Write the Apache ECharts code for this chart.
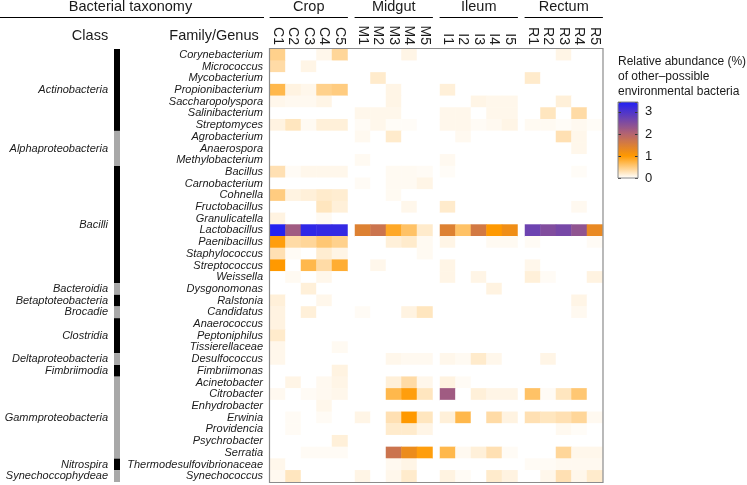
<!DOCTYPE html>
<html><head><meta charset="utf-8">
<script src="https://cdn.jsdelivr.net/npm/echarts@6/dist/echarts.min.js"></script>
<style>html,body{margin:0;padding:0;background:#fff}#c{width:747px;height:485px}</style>
</head><body><div id="c"></div>
<script>
const genera = ['Corynebacterium','Micrococcus','Mycobacterium','Propionibacterium','Saccharopolyspora','Salinibacterium','Streptomyces','Agrobacterium','Anaerospora','Methylobacterium','Bacillus','Carnobacterium','Cohnella','Fructobacillus','Granulicatella','Lactobacillus','Paenibacillus','Staphylococcus','Streptococcus','Weissella','Dysgonomonas','Ralstonia','Candidatus','Anaerococcus','Peptoniphilus','Tissierellaceae','Desulfococcus','Fimbriimonas','Acinetobacter','Citrobacter','Enhydrobacter','Erwinia','Providencia','Psychrobacter','Serratia','Thermodesulfovibrionaceae','Synechococcus'];
const classes = ['Actinobacteria','Alphaproteobacteria','Bacilli','Bacteroidia','Betaptoteobacteria','Brocadie','Clostridia','Deltaproteobacteria','Fimbriimodia','Gammproteobacteria','Nitrospira','Synechoccophydeae'];
const classSizes = [7,3,10,1,1,1,3,1,1,7,1,1];
const groups = ['Crop','Midgut','Ileum','Rectum'];
const columns = [['C1','C2','C3','C4','C5'],['M1','M2','M3','M4','M5'],['I1','I2','I3','I4','I5'],['R1','R2','R3','R4','R5']];
const legendTicks = [0,1,2,3];

const crop = [
[0.45,0,0,0.08,0.4],[0.35,0,0.1,0,0],[0,0,0,0,0],[0.7,0.12,0.08,0.45,0.5],[0.08,0.06,0.06,0.1,0],
[0,0,0,0,0],[0.12,0.25,0.05,0.15,0.15],[0,0,0,0,0],[0,0,0,0,0],[0,0,0,0,0],
[0.3,0.04,0.08,0.08,0.08],[0,0,0,0,0],[0.5,0.12,0.15,0.2,0.18],[0,0,0,0.25,0.15],[0.12,0,0,0.05,0],
[3.4,2.2,3.3,3.25,3.25],[0.95,0.35,0.4,0.55,0.45],[0.3,0.04,0,0.18,0.1],[1.0,0,0.7,0.35,0.8],[0,0.05,0,0.08,0],
[0,0,0.15,0,0],[0.15,0,0,0.08,0],[0.12,0,0.15,0,0],[0.12,0,0,0,0],[0.2,0,0,0,0],
[0.08,0,0,0,0.05],[0.08,0,0,0,0],[0,0,0,0,0.12],[0,0.1,0,0.06,0.1],[0.06,0,0.04,0.06,0.08],
[0,0,0,0.08,0],[0,0.04,0,0.04,0],[0,0.04,0,0,0],[0,0,0,0,0.15],[0,0,0.04,0.04,0.04],
[0.08,0,0,0,0],[0.06,0.25,0,0,0]];
const midgut = [
[0,0,0,0.1,0],[0,0,0,0,0],[0,0.2,0,0,0],[0,0,0.1,0,0],[0,0,0.1,0,0],
[0.08,0.08,0.08,0,0],[0.04,0.08,0.03,0.03,0],[0.06,0,0.2,0,0],[0,0,0,0,0],[0.05,0,0,0,0],
[0,0,0.05,0.05,0.04],[0.04,0,0.05,0.05,0.1],[0,0,0.05,0,0],[0,0,0,0.08,0],[0,0,0,0,0],
[1.45,1.7,0.85,0.6,0.2],[0,0,0.15,0.2,0.05],[0,0,0,0,0.05],[0,0.08,0,0,0],[0,0,0,0,0],
[0,0,0,0,0],[0,0,0,0,0],[0.04,0,0,0.12,0.25],[0,0,0,0,0],[0,0,0,0,0],
[0,0,0,0,0],[0,0,0.08,0.06,0.06],[0,0,0,0,0],[0,0,0.15,0.35,0.08],[0,0,0.7,0.95,0.25],
[0,0,0,0,0],[0.1,0,0.3,1.0,0.25],[0,0,0.2,0.2,0.1],[0,0,0,0,0],[0,0,1.7,1.25,0.95],
[0,0,0.06,0.1,0],[0.1,0,0.08,0.2,0]];
const ileum = [
[0,0,0,0,0],[0,0,0,0,0],[0,0,0,0,0],[0.15,0,0,0,0],[0,0,0.1,0.08,0.08],
[0.08,0.08,0,0.08,0.08],[0.08,0.08,0.04,0.06,0.1],[0,0.06,0,0,0],[0,0,0,0,0],[0.06,0,0,0,0],
[0.03,0,0,0,0],[0,0,0,0,0],[0,0,0,0,0],[0.2,0,0,0,0],[0,0,0,0,0],
[1.45,0.6,1.6,1.0,1.2],[0.1,0,0,0.05,0.05],[0,0,0,0,0],[0.1,0,0,0,0],[0.1,0,0.1,0,0],
[0,0,0,0.12,0],[0,0,0,0,0],[0,0,0,0,0],[0,0,0,0,0],[0,0,0,0,0],
[0,0,0,0,0],[0.08,0.05,0.2,0.08,0],[0,0,0,0,0],[0.12,0.04,0,0,0],[2.2,0,0.15,0.1,0.1],
[0,0,0,0,0],[0.15,0.7,0,0.35,0.12],[0,0,0,0,0],[0,0,0,0,0],[0.7,0.06,0.15,0.3,0.04],
[0,0,0,0,0],[0.12,0.04,0,0.2,0.12]];
const rectum = [
[0,0,0.1,0,0],[0,0,0,0,0],[0.2,0,0,0,0],[0,0,0,0,0],[0,0,0.15,0,0],
[0,0.25,0,0.35,0],[0.05,0.05,0.03,0.06,0.03],[0,0,0.3,0.08,0],[0,0,0,0.08,0],[0,0,0,0,0],
[0,0,0,0.03,0],[0,0,0,0,0],[0,0,0,0,0],[0,0,0,0.06,0],[0,0,0,0,0],
[2.7,2.5,2.6,2.35,1.3],[0.04,0,0,0,0.04],[0,0,0,0,0],[0.08,0,0,0,0],[0.15,0.04,0,0,0.12],
[0,0,0,0,0],[0,0,0,0.1,0],[0,0,0,0.06,0],[0,0,0,0,0],[0,0,0,0,0],
[0,0,0,0,0],[0,0.1,0,0,0],[0,0,0,0,0],[0,0,0,0,0],[0.6,0.04,0.25,0.55,0],
[0,0,0,0,0],[0.3,0.25,0.3,0.4,0.06],[0,0,0.06,0.03,0],[0,0,0,0,0],[0,0,0.4,0.08,0.08],
[0.04,0.04,0.06,0.06,0.06],[0,0.08,0.3,0.08,0.2]];
const groupData = [crop, midgut, ileum, rectum];

// colour scale
const VMAX = 3.45;
const anchors = [[0,[255,255,255]],[1,[255,153,0]],[2,[180,100,112]],[VMAX,[32,32,245]]];
function colorAt(v){
  for(let i=1;i<anchors.length;i++){
    if(v<=anchors[i][0]+1e-9){
      const a=anchors[i-1], b=anchors[i];
      const t=(v-a[0])/(b[0]-a[0]);
      const c=a[1].map((x,k)=>Math.round(x+(b[1][k]-x)*t));
      return 'rgb('+c.join(',')+')';
    }
  }
  return 'rgb(32,32,245)';
}
const NSTOP = 69;
const scaleColors = [];
for(let i=0;i<=NSTOP;i++) scaleColors.push(colorAt(i*VMAX/NSTOP));

const FONT = 'Liberation Sans, Arial, Helvetica, sans-serif';
const TXT = '#1a1a1a';
const gridLefts = [270, 355, 440, 525];
const GW = 77.5, GT = 49, GH = 433;

const grid = [], xAxis = [], yAxis = [], series = [];
gridLefts.forEach((l,i)=>{
  grid.push({left:l, top:GT, width:GW, height:GH, containLabel:false, outerBoundsMode:'none'});
  xAxis.push({gridIndex:i, type:'category', data:columns[i], position:'top',
    axisLine:{show:false}, axisTick:{show:false}, splitLine:{show:false},
    axisLabel:{interval:0, rotate:90, fontSize:14, margin:4, color:TXT, fontFamily:FONT}});
  xAxis.push({gridIndex:i, type:'category', data:columns[i], position:'top', offset:32,
    axisLine:{show:true, lineStyle:{color:'#000', width:1}}, axisTick:{show:false},
    axisLabel:{show:false}, name:groups[i], nameLocation:'middle', nameGap:3,
    nameTextStyle:{fontSize:14.5, color:TXT, fontFamily:FONT, verticalAlign:'bottom'}});
  yAxis.push({gridIndex:i, type:'category', data:genera, inverse:true,
    axisLine:{show:false}, axisTick:{show:false}, splitLine:{show:false},
    axisLabel:{show:i===0, interval:0, fontSize:11, fontStyle:'italic', margin:7, color:TXT, fontFamily:FONT}});
  const d = [];
  groupData[i].forEach((row,r)=>row.forEach((v,c)=>d.push([c,r,v])));
  series.push({type:'heatmap', xAxisIndex:2*i, yAxisIndex:i, data:d,
    emphasis:{disabled:true}, itemStyle:{borderWidth:0}});
});

// class bar grid (index 4)
grid.push({left:114, top:GT, width:6, height:GH, containLabel:false, outerBoundsMode:'none'});
xAxis.push({gridIndex:4, type:'category', data:['class'], show:false});
yAxis.push({gridIndex:4, type:'value', min:0, max:genera.length, inverse:true, show:false});
classes.forEach((name,k)=>{
  series.push({type:'bar', xAxisIndex:8, yAxisIndex:4, stack:'cls', barWidth:'100%',
    data:[classSizes[k]], itemStyle:{color: k%2 ? '#a8a8a8' : '#000'},
    emphasis:{disabled:true},
    label:{show:true, position:'left', distance:6, formatter:name, fontSize:11,
      fontStyle:'italic', color:TXT, fontFamily:FONT}});
});

// colour bar axis grid (index 5)
grid.push({left:618, top:102, width:20, height:76, containLabel:false, outerBoundsMode:'none'});
xAxis.push({gridIndex:5, type:'category', data:[''], show:false});
yAxis.push({gridIndex:5, type:'value', min:0, max:VMAX, interval:1, position:'left', z:10,
  axisLine:{show:false}, splitLine:{show:false}, axisLabel:{show:false},
  axisTick:{show:true, inside:true, length:3, lineStyle:{color:'#333'}}});
yAxis.push({gridIndex:5, type:'value', min:0, max:VMAX, interval:1, position:'right', z:10,
  axisLine:{show:false}, splitLine:{show:false},
  axisTick:{show:true, inside:true, length:3, lineStyle:{color:'#333'}},
  axisLabel:{show:true, margin:7, fontSize:13, color:TXT, fontFamily:FONT,
    formatter:v=>legendTicks.includes(v)?String(v):''}});

const option = {
  animation:false,
  backgroundColor:'#fff',
  textStyle:{fontFamily:FONT},
  grid, xAxis, yAxis, series,
  visualMap:{type:'continuous', min:0, max:VMAX, seriesIndex:[0,1,2,3], calculable:false,
    orient:'vertical', left:618, top:102, itemWidth:20, itemHeight:76, padding:0,
    inRange:{color:scaleColors}, hoverLink:false},
  graphic:[
    {type:'text', x:130.5, y:7, style:{text:'Bacterial taxonomy', font:'14.5px '+FONT, fill:TXT, align:'center', verticalAlign:'middle'}},
    {type:'line', shape:{x1:0, y1:17.5, x2:264, y2:17.5}, style:{stroke:'#000', lineWidth:1}},
    {type:'text', x:90, y:36, style:{text:'Class', font:'14.5px '+FONT, fill:TXT, align:'center', verticalAlign:'middle'}},
    {type:'text', x:214, y:36, style:{text:'Family/Genus', font:'14.5px '+FONT, fill:TXT, align:'center', verticalAlign:'middle'}},
    {type:'text', x:618, y:54, style:{text:'Relative abundance (%)\nof other\u2013possible\nenvironmental bacteria', font:'12px '+FONT, fill:TXT, lineHeight:15, align:'left', verticalAlign:'top'}},
    {type:'rect', z:100, shape:{x:618, y:102, width:20, height:76}, style:{fill:'none', stroke:'#888', lineWidth:1}},
    {type:'rect', z:100, shape:{x:269.5, y:48.5, width:333.5, height:434}, style:{fill:'none', stroke:'#8c8c8c', lineWidth:1.2}}
  ]
};
const chart = echarts.init(document.getElementById('c'), null, {renderer:'canvas'});
chart.setOption(option);
</script></body></html>
